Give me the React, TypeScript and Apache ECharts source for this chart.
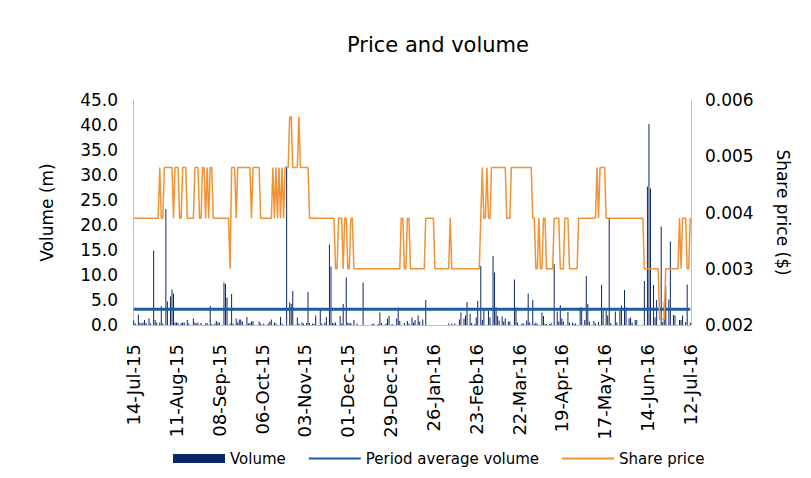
import React, { useEffect, useRef } from "react";
import * as echarts from "echarts";

const FONT = "DejaVu Sans";
const MONTHS = ["Jan", "Feb", "Mar", "Apr", "May", "Jun", "Jul", "Aug", "Sep", "Oct", "Nov", "Dec"];

// daily categories 14-Jul-15 .. 12-Jul-16 (365 days)
const DAY_COUNT = 365;
function buildDates(): string[] {
  const out: string[] = [];
  for (let i = 0; i < DAY_COUNT; i++) {
    const d = new Date(Date.UTC(2015, 6, 14 + i));
    const dd = String(d.getUTCDate()).padStart(2, "0");
    const yy = String(d.getUTCFullYear() % 100).padStart(2, "0");
    out.push(`${dd}-${MONTHS[d.getUTCMonth()]}-${yy}`);
  }
  return out;
}
const categories = buildDates();

// daily volume (m), 28 days per row
const volume = [
  0.9, 0.3, 0, 2.1, 0.5, 0.3, 0.5, 1.0, 0.4, 0, 1.3, 0.3, 0, 14.9, 1.0, 0.5, 0, 0.5, 3.8, 0.3, 0, 23.2, 4.7, 0, 5.7, 7.1, 6.3, 0.5,
  0.5, 0.4, 0, 0.4, 0.5, 0.5, 0, 1.0, 0.3, 0, 0, 1.3, 0.5, 0.3, 0.5, 0, 0.4, 0, 0, 0.3, 0.4, 0, 3.8, 0.2, 0, 0.3, 0.8, 0.5,
  0.5, 0, 0, 8.5, 8.2, 5.5, 0, 0.3, 6.2, 0.3, 0, 1.3, 0.5, 1.1, 1.1, 0.7, 0, 0, 1.6, 0.3, 0.4, 0.7, 0.8, 0, 0, 0, 0.7, 0.3,
  0, 0.3, 0, 0, 0.3, 0.7, 1.1, 0, 0.5, 0.3, 0, 0, 1.6, 0.3, 0, 0, 31.7, 0, 4.5, 4.2, 6.8, 0, 0, 1.5, 0.3, 0, 0.5, 0.3,
  0, 0.4, 6.6, 0.4, 0, 0.3, 0.2, 1.9, 0, 0, 3.3, 0.3, 0, 0.5, 1.6, 0, 16.1, 11.7, 0.4, 0.3, 0.5, 0, 0, 1.8, 0.3, 4.2, 0, 9.5,
  0.5, 0.3, 0.4, 0, 1.0, 0, 0.3, 0, 0, 0, 8.5, 0, 0, 0, 0, 0, 0.2, 0.3, 0, 0, 0.2, 2.5, 0.4, 0, 0, 0.3, 1.3, 1.8,
  0, 0.2, 0, 0, 1.3, 3.5, 0.8, 0, 0, 0.4, 0, 0.8, 0.3, 0, 1.5, 0.5, 1.0, 0, 1.9, 0.7, 0, 1.1, 0, 5.0, 0, 0, 0, 0,
  0, 0, 0, 0, 0, 0, 0, 0, 0, 0, 0.3, 0, 0.3, 0, 0.3, 0, 0, 1.1, 2.5, 0, 1.3, 1.9, 4.6, 0, 2.2, 0.4, 0, 0.2,
  1.5, 4.8, 0, 11.8, 1.0, 2.9, 0, 0, 2.9, 1.5, 0, 13.8, 10.5, 3.5, 1.8, 0.9, 0, 1.7, 0.7, 1.3, 0, 0.7, 0.7, 0, 0, 9.1, 3.5, 0.5,
  0, 0, 0.3, 0.3, 0, 0.9, 6.3, 0.5, 0, 5.0, 0.2, 0.5, 0.2, 0, 0, 2.5, 1.8, 0.2, 0.2, 0, 0.2, 0.4, 0, 12.2, 0, 2.7, 0.7, 4.0,
  1.3, 0.7, 0, 0, 2.6, 0.5, 0, 0.5, 0.2, 0.3, 0, 0, 3.5, 3.5, 0, 1.0, 9.8, 4.2, 0.7, 0, 0, 0.8, 0.3, 0, 0.6, 0, 8.0, 2.8,
  0, 2.8, 1.9, 21.5, 0.4, 0, 0, 2.7, 0.5, 0, 2.8, 3.9, 0, 7.0, 3.5, 0, 1.3, 1.5, 0.5, 0, 1.0, 1.0, 0, 0, 0, 0, 8.8, 0,
  27.7, 40.2, 27.3, 0, 8.0, 1.5, 5.0, 0, 0, 19.7, 0.6, 4.7, 7.8, 0, 5.1, 16.7, 0, 2.0, 1.9, 0, 0, 1.0, 1.0, 1.9, 0, 0.6, 8.1, 0,
  0.5,
];

// period average volume (m)
const AVERAGE_VOLUME = 3.15;

// share price ($) as runs of [price, number of days]
const priceRuns: [number, number][] = [
  [0.0039, 17], [0.0048, 1], [0.0039, 2], [0.0048, 6], [0.0039, 1], [0.0048, 3], [0.0039, 2], [0.0048, 3],
  [0.0039, 5], [0.0048, 3], [0.0039, 2], [0.0048, 2], [0.0039, 1], [0.0048, 1], [0.0039, 1], [0.0048, 2],
  [0.0039, 11], [0.003, 1], [0.0048, 3], [0.0039, 1], [0.0048, 9], [0.0039, 1], [0.0048, 5], [0.0039, 8],
  [0.0048, 1], [0.0039, 1], [0.0048, 1], [0.0039, 1], [0.0048, 1], [0.0039, 1], [0.0048, 1], [0.0039, 1],
  [0.0048, 3], [0.0057, 2], [0.0048, 4], [0.0057, 1], [0.0048, 6], [0.0039, 17], [0.003, 2], [0.0039, 3],
  [0.003, 1], [0.0039, 2], [0.003, 2], [0.0039, 2], [0.003, 31], [0.0039, 2], [0.003, 2], [0.0039, 2],
  [0.003, 10], [0.0039, 6], [0.003, 10], [0.0039, 1], [0.003, 19], [0.0039, 1], [0.0048, 1], [0.0039, 2],
  [0.0048, 1], [0.0039, 2], [0.0048, 10], [0.0039, 3], [0.0048, 14], [0.0039, 2], [0.003, 2], [0.0039, 1],
  [0.003, 2], [0.0039, 2], [0.003, 5], [0.0039, 4], [0.003, 3], [0.0039, 3], [0.003, 6], [0.0039, 12],
  [0.0048, 1], [0.0039, 1], [0.0048, 4], [0.0039, 25], [0.003, 10], [0.0021, 4], [0.003, 9], [0.0039, 1],
  [0.003, 1], [0.0039, 3], [0.003, 2], [0.0039, 1],
];
const sharePrice: number[] = [];
priceRuns.forEach(([p, n]) => {
  for (let k = 0; k < n; k++) sharePrice.push(p);
});

const VOLUME_COLOR = "#0C2668";
const AVG_COLOR = "#1B5CA3";
const PRICE_COLOR = "#F39234";
const AXIS_COLOR = "#BFBFBF";

export default function App() {
  const ref = useRef<HTMLDivElement>(null);
  useEffect(() => {
    if (!ref.current) return;
    const chart = echarts.init(ref.current, undefined, { renderer: "svg" });
    chart.setOption({
      animation: false,
      textStyle: { fontFamily: FONT },
      title: {
        text: "Price and volume",
        left: 438,
        top: 34,
        textAlign: "center",
        padding: 0,
        textStyle: { fontFamily: FONT, fontSize: 21, fontWeight: "normal", color: "#000" },
      },
      legend: {
        left: 168,
        top: 446,
        itemWidth: 52,
        itemHeight: 9,
        itemGap: 22,
        textStyle: { fontFamily: FONT, fontSize: 15, color: "#000" },
        data: [
          { name: "Volume", icon: "rect" },
          { name: "Period average volume", itemStyle: { opacity: 0 } },
          { name: "Share price", itemStyle: { opacity: 0 } },
        ],
      },
      grid: { left: 133, right: 120, top: 100, bottom: 153 },
      xAxis: {
        type: "category",
        data: categories,
        boundaryGap: true,
        axisLine: { lineStyle: { color: AXIS_COLOR, width: 1 } },
        axisTick: { show: false },
        axisLabel: { interval: 27, rotate: 90, margin: 19, fontSize: 18, color: "#000", fontFamily: FONT },
        splitLine: { show: false },
      },
      yAxis: [
        {
          type: "value",
          min: 0,
          max: 45,
          interval: 5,
          name: "Volume (m)",
          nameLocation: "middle",
          nameGap: 78,
          nameTextStyle: { fontSize: 17, color: "#000", fontFamily: FONT },
          axisLine: { show: true, lineStyle: { color: AXIS_COLOR, width: 1 } },
          axisTick: { show: false },
          axisLabel: { margin: 15, fontSize: 17, color: "#000", fontFamily: FONT, formatter: (v: number) => v.toFixed(1) },
          splitLine: { show: false },
        },
        {
          type: "value",
          position: "right",
          min: 0.002,
          max: 0.006,
          interval: 0.001,
          name: "Share price ($)",
          nameLocation: "middle",
          nameRotate: -90,
          nameGap: 83,
          nameTextStyle: { fontSize: 17, color: "#000", fontFamily: FONT },
          axisLine: { show: true, lineStyle: { color: AXIS_COLOR, width: 1 } },
          axisTick: { show: false },
          axisLabel: { margin: 14, fontSize: 17, color: "#000", fontFamily: FONT, formatter: (v: number) => v.toFixed(3) },
          splitLine: { show: false },
        },
      ],
      series: [
        {
          name: "Volume",
          type: "bar",
          yAxisIndex: 0,
          data: volume,
          barWidth: 1,
          itemStyle: { color: VOLUME_COLOR },
        },
        {
          name: "Period average volume",
          type: "line",
          yAxisIndex: 0,
          data: [
            [categories[0], AVERAGE_VOLUME],
            [categories[categories.length - 1], AVERAGE_VOLUME],
          ],
          symbol: "none",
          lineStyle: { color: AVG_COLOR, width: 3 },
          itemStyle: { color: AVG_COLOR },
        },
        {
          name: "Share price",
          type: "line",
          yAxisIndex: 1,
          data: sharePrice,
          symbol: "none",
          lineStyle: { color: PRICE_COLOR, width: 1.5 },
          itemStyle: { color: PRICE_COLOR },
        },
      ],
    });
    return () => chart.dispose();
  }, []);
  return (
    <div
      ref={ref}
      style={{ position: "absolute", left: 0, top: 0, width: 811, height: 478, background: "#fff" }}
    />
  );
}
